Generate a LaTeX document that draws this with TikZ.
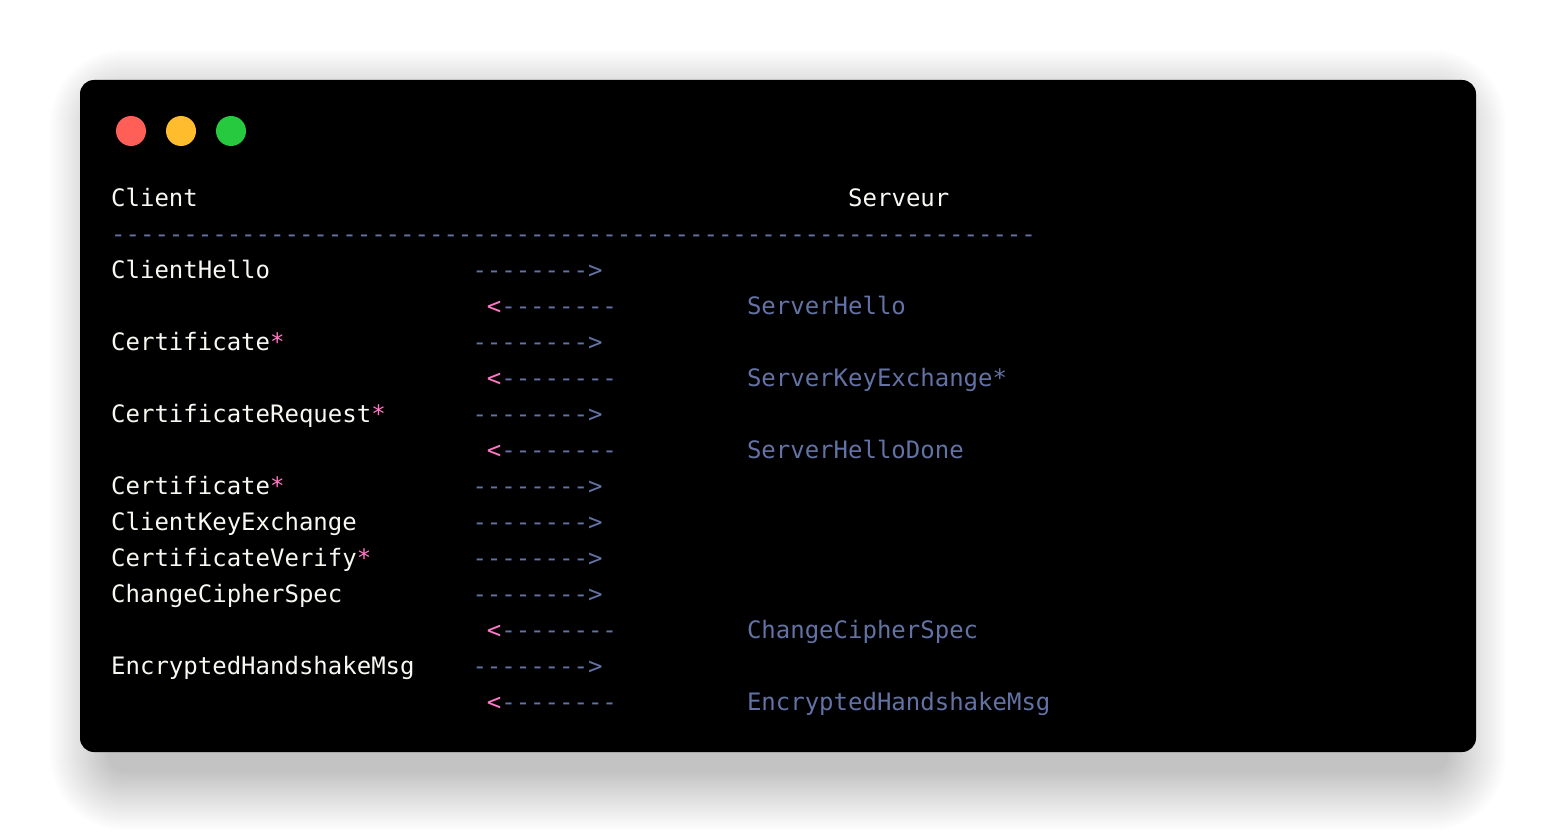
\documentclass[tikz,border=0pt]{standalone}
\usepackage{fontspec}
\setmonofont{DejaVu Sans Mono}
\usepackage{tikz}
\usetikzlibrary{positioning}
\definecolor{texte}{HTML}{F8F8F2}
\definecolor{commentaire}{HTML}{6272A4}
\definecolor{rose}{HTML}{FF79C6}
\definecolor{rouge}{HTML}{FF5F56}
\definecolor{jaune}{HTML}{FFBD2E}
\definecolor{vert}{HTML}{27C93F}
\newcommand{\etoile}{\textcolor{rose}{*}}
\newcommand{\gauche}{\textcolor{rose}{<}--------}

\begin{document}
\begin{tikzpicture}[x=1pt,y=-1pt,
		code/.style={anchor=base west,inner sep=0pt,font=\ttfamily\fontsize{24}{36}\selectfont},
		client/.style={code,text=texte},
		serveur/.style={code,text=commentaire},
		fleche/.style={code,text=commentaire},
		bouton/.style={circle,inner sep=0pt,minimum size=30pt}]
		\useasboundingbox (0,0) rectangle (1556,832);
		\fill[white] (0,0) rectangle (1556,832);
		
		% ombre
		\foreach \e [evaluate=\e as \r using 14+\e] in {2,4,...,60}
		\fill[black,opacity=0.009,rounded corners=\r pt] (110-\e,110-\e) rectangle (1446+\e,770+\e);
		\fill[black,rounded corners=14pt] (80,80) rectangle (1476,752);
		
		\node[bouton,fill=rouge] (rouge) at (131,131) {};
		\node[bouton,fill=jaune] (jaune) at (181,131) {};
		\node[bouton,fill=vert]  (vert)  at (231,131) {};
		
		\node[client]  (client)  at (111,206) {Client};
		\node[client]  (serveur) at (848,206) {Serveur};
		\node[fleche]  (sep)     at (111,242) {----------------------------------------------------------------};
		
		\node[client]  (c1) at (111,278) {ClientHello};
		\node[fleche]  (a1) at (472.3,278) {-------->};
		\node[fleche]  (b1) at (486.7,314) {\gauche};
		\node[serveur] (s1) at (746.8,314) {ServerHello};
		\node[client]  (c2) at (111,350) {Certificate\etoile};
		\node[fleche]  (a2) at (472.3,350) {-------->};
		\node[fleche]  (b2) at (486.7,386) {\gauche};
		\node[serveur] (s2) at (746.8,386) {ServerKeyExchange*};
		\node[client]  (c3) at (111,422) {CertificateRequest\etoile};
		\node[fleche]  (a3) at (472.3,422) {-------->};
		\node[fleche]  (b3) at (486.7,458) {\gauche};
		\node[serveur] (s3) at (746.8,458) {ServerHelloDone};
		\node[client]  (c4) at (111,494) {Certificate\etoile};
		\node[fleche]  (a4) at (472.3,494) {-------->};
		\node[client]  (c5) at (111,530) {ClientKeyExchange};
		\node[fleche]  (a5) at (472.3,530) {-------->};
		\node[client]  (c6) at (111,566) {CertificateVerify\etoile};
		\node[fleche]  (a6) at (472.3,566) {-------->};
		\node[client]  (c7) at (111,602) {ChangeCipherSpec};
		\node[fleche]  (a7) at (472.3,602) {-------->};
		\node[fleche]  (b4) at (486.7,638) {\gauche};
		\node[serveur] (s4) at (746.8,638) {ChangeCipherSpec};
		\node[client]  (c8) at (111,674) {EncryptedHandshakeMsg};
		\node[fleche]  (a8) at (472.3,674) {-------->};
		\node[fleche]  (b5) at (486.7,710) {\gauche};
		\node[serveur] (s5) at (746.8,710) {EncryptedHandshakeMsg};
		\end{tikzpicture}
\end{document}
